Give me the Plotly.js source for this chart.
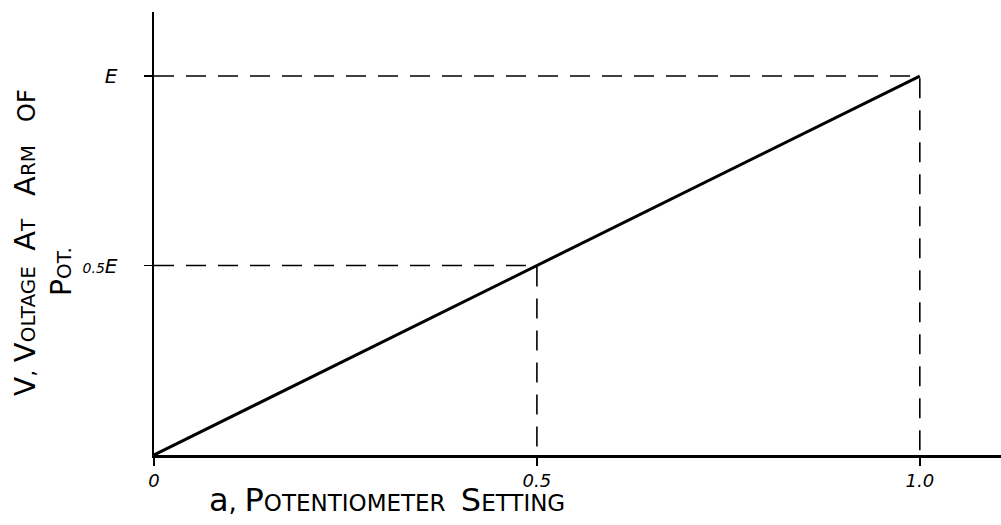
<!DOCTYPE html>
<html>
<head>
<meta charset="utf-8">
<script src="https://cdn.plot.ly/plotly-3.0.1.min.js"></script>
<style>
  html, body { margin: 0; padding: 0; background: #fff; }
  #chart { width: 1001px; height: 525px; }
</style>
</head>
<body>
<div id="chart"></div>
<script>
// Potentiometer setting a (fraction of travel) and voltage at arm (in units of E)
const potSetting = [0, 0.5, 1.0];
const armVoltage = [0, 0.5, 1.0];

// Reference (dashed) points marked on the chart
const refSetting = [0.5, 1.0];
const refVoltage = [0.5, 1.0];

// Tick labels
const xTickVals = [0, 0.5, 1.0];
const xTickText = ['<i>0</i>', '<i>0.5</i>', '<i>1.0</i>'];
const yTickVals = [0.5, 1.0];
const yTickText = ['<i><span style="font-size:14px">0.5</span>E</i>', '<i>E</i>'];

const ink = '#000000';
const fontFam = '"DejaVu Sans", "Liberation Sans", sans-serif';

const traces = [];
// dashed guide lines for each reference point
for (let i = 0; i < refSetting.length; i++) {
  traces.push({
    x: [0, refSetting[i], refSetting[i]],
    y: [refVoltage[i], refVoltage[i], 0],
    mode: 'lines',
    line: { color: ink, width: 1.6, dash: '20px,12px' },
    hoverinfo: 'skip',
    showlegend: false
  });
}
// main characteristic line
traces.push({
  x: potSetting,
  y: armVoltage,
  mode: 'lines',
  line: { color: ink, width: 3 },
  showlegend: false
});

function sc(big, small, bs, ss) {
  return '<span style="font-size:' + bs + 'px">' + big + '</span>' +
         '<span style="font-size:' + ss + 'px">' + small + '</span>';
}

const xTitle = sc('a', ',', 32, 26) + ' ' + sc('P', 'OTENTIOMETER', 32, 23) + '  ' + sc('S', 'ETTING', 32, 23);
const yTitle1 = sc('V', ',', 28, 22) + ' ' + sc('V', 'OLTAGE', 29, 20) + '  ' + sc('A', 'T', 29, 20) + '   ' + sc('A', 'RM', 29, 20) + '   ' + sc('O', 'F', 24, 24);
const yTitle2 = sc('P', 'OT.', 28, 20);

const layout = {
  width: 1001,
  height: 525,
  margin: { l: 154, r: 0, t: 12, b: 70, pad: 0 },
  paper_bgcolor: '#ffffff',
  plot_bgcolor: '#ffffff',
  font: { family: fontFam, color: ink, size: 18 },
  showlegend: false,
  xaxis: {
    range: [0, 1.106],
    showgrid: false,
    zeroline: false,
    showline: true,
    linecolor: ink,
    linewidth: 2.5,
    ticks: 'outside',
    ticklen: 8,
    tickwidth: 1.5,
    tickcolor: ink,
    tickmode: 'array',
    tickvals: xTickVals,
    ticktext: xTickText,
    tickfont: { family: fontFam, size: 18, color: ink },
    ticklabelstandoff: 0,
    fixedrange: true
  },
  yaxis: {
    range: [0, 1.169],
    showgrid: false,
    zeroline: false,
    showline: true,
    linecolor: ink,
    linewidth: 2.5,
    ticks: 'outside',
    ticklen: 8,
    tickwidth: 1.5,
    tickcolor: ink,
    tickmode: 'array',
    tickvals: yTickVals,
    ticktext: yTickText,
    tickfont: { family: fontFam, size: 20, color: ink },
    ticklabelstandoff: 22,
    fixedrange: true
  },
  annotations: [
    {
      xref: 'paper', yref: 'paper',
      x: (387 - 154) / 847, y: (455 - 500) / 443,
      xanchor: 'center', yanchor: 'middle',
      text: xTitle, showarrow: false,
      font: { family: fontFam, size: 24, color: ink }
    },
    {
      xref: 'paper', yref: 'paper',
      x: (25 - 154) / 847, y: (455 - 243) / 443,
      xanchor: 'center', yanchor: 'middle',
      textangle: -90,
      text: yTitle1, showarrow: false,
      font: { family: fontFam, size: 24, color: ink }
    },
    {
      xref: 'paper', yref: 'paper',
      x: (62 - 154) / 847, y: (455 - 272) / 443,
      xanchor: 'center', yanchor: 'middle',
      textangle: -90,
      text: yTitle2, showarrow: false,
      font: { family: fontFam, size: 22, color: ink }
    }
  ]
};

Plotly.newPlot('chart', traces, layout, { displayModeBar: false, staticPlot: true });
</script>
</body>
</html>
